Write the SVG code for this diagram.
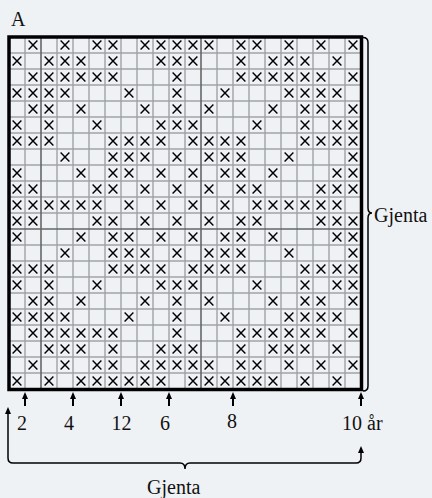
<svg xmlns="http://www.w3.org/2000/svg" width="432" height="498" viewBox="0 0 432 498">
<style>
.bg{fill:#eff2f5}
.grid{stroke:#a2a2a2;stroke-width:1.4;fill:none}
.gridd{stroke:#666;stroke-width:1.6;fill:none}
.border{stroke:#000;stroke-width:3.5;fill:none}
.xm{stroke:#000;stroke-width:1.45;fill:none}
.t{font-family:"Liberation Serif","Times New Roman",serif;font-size:20px;fill:#111}
.ln{stroke:#000;stroke-width:1.5;fill:none}
.ar{stroke:#000;stroke-width:2;fill:none}
</style>
<defs>
<path id="x" class="xm" d="M-4.4,-4.4L4.4,4.4M4.4,-4.4L-4.4,4.4"/>
<marker id="up" viewBox="0 0 6 7" refX="3" refY="4" markerWidth="6" markerHeight="7" markerUnits="userSpaceOnUse" orient="0">
<path d="M0,7L3,0L6,7Z" fill="#000"/>
</marker>
</defs>
<rect class="bg" x="0" y="0" width="432" height="498"/>
<text class="t" x="11" y="26">A</text>
<g id="grid">
<path class="grid" d="M25,37V389M57,37V389M73,37V389M89,37V389M105,37V389M121,37V389M137,37V389M153,37V389M169,37V389M185,37V389M217,37V389M233,37V389M249,37V389M265,37V389M281,37V389M297,37V389M313,37V389M329,37V389M345,37V389M9,53H361M9,69H361M9,85H361M9,101H361M9,117H361M9,133H361M9,149H361M9,165H361M9,181H361M9,197H361M9,213H361M9,245H361M9,261H361M9,277H361M9,293H361M9,309H361M9,325H361M9,341H361M9,357H361M9,373H361"/>
<path class="gridd" d="M41,37V389M201,37V389M9,229H361"/>
</g>
<g id="marks">
<g transform="translate(0,45)"><use href="#x" x="33"/><use href="#x" x="65"/><use href="#x" x="97"/><use href="#x" x="113"/><use href="#x" x="145"/><use href="#x" x="161"/><use href="#x" x="177"/><use href="#x" x="193"/><use href="#x" x="209"/><use href="#x" x="241"/><use href="#x" x="257"/><use href="#x" x="289"/><use href="#x" x="321"/><use href="#x" x="353"/></g>
<g transform="translate(0,61)"><use href="#x" x="17"/><use href="#x" x="49"/><use href="#x" x="65"/><use href="#x" x="81"/><use href="#x" x="113"/><use href="#x" x="161"/><use href="#x" x="177"/><use href="#x" x="193"/><use href="#x" x="241"/><use href="#x" x="273"/><use href="#x" x="289"/><use href="#x" x="305"/><use href="#x" x="337"/></g>
<g transform="translate(0,77)"><use href="#x" x="33"/><use href="#x" x="49"/><use href="#x" x="65"/><use href="#x" x="81"/><use href="#x" x="97"/><use href="#x" x="113"/><use href="#x" x="177"/><use href="#x" x="241"/><use href="#x" x="257"/><use href="#x" x="273"/><use href="#x" x="289"/><use href="#x" x="305"/><use href="#x" x="321"/><use href="#x" x="353"/></g>
<g transform="translate(0,93)"><use href="#x" x="17"/><use href="#x" x="33"/><use href="#x" x="49"/><use href="#x" x="65"/><use href="#x" x="129"/><use href="#x" x="177"/><use href="#x" x="225"/><use href="#x" x="289"/><use href="#x" x="305"/><use href="#x" x="321"/><use href="#x" x="337"/></g>
<g transform="translate(0,109)"><use href="#x" x="33"/><use href="#x" x="49"/><use href="#x" x="81"/><use href="#x" x="145"/><use href="#x" x="177"/><use href="#x" x="209"/><use href="#x" x="273"/><use href="#x" x="305"/><use href="#x" x="321"/><use href="#x" x="353"/></g>
<g transform="translate(0,125)"><use href="#x" x="17"/><use href="#x" x="49"/><use href="#x" x="97"/><use href="#x" x="161"/><use href="#x" x="177"/><use href="#x" x="193"/><use href="#x" x="257"/><use href="#x" x="305"/><use href="#x" x="337"/><use href="#x" x="353"/></g>
<g transform="translate(0,141)"><use href="#x" x="17"/><use href="#x" x="33"/><use href="#x" x="49"/><use href="#x" x="113"/><use href="#x" x="129"/><use href="#x" x="145"/><use href="#x" x="161"/><use href="#x" x="193"/><use href="#x" x="209"/><use href="#x" x="225"/><use href="#x" x="241"/><use href="#x" x="305"/><use href="#x" x="321"/><use href="#x" x="337"/><use href="#x" x="353"/></g>
<g transform="translate(0,157)"><use href="#x" x="65"/><use href="#x" x="113"/><use href="#x" x="129"/><use href="#x" x="145"/><use href="#x" x="177"/><use href="#x" x="209"/><use href="#x" x="225"/><use href="#x" x="241"/><use href="#x" x="289"/><use href="#x" x="353"/></g>
<g transform="translate(0,173)"><use href="#x" x="17"/><use href="#x" x="81"/><use href="#x" x="113"/><use href="#x" x="129"/><use href="#x" x="161"/><use href="#x" x="193"/><use href="#x" x="225"/><use href="#x" x="241"/><use href="#x" x="273"/><use href="#x" x="337"/><use href="#x" x="353"/></g>
<g transform="translate(0,189)"><use href="#x" x="17"/><use href="#x" x="33"/><use href="#x" x="97"/><use href="#x" x="113"/><use href="#x" x="145"/><use href="#x" x="177"/><use href="#x" x="209"/><use href="#x" x="241"/><use href="#x" x="257"/><use href="#x" x="321"/><use href="#x" x="337"/><use href="#x" x="353"/></g>
<g transform="translate(0,205)"><use href="#x" x="17"/><use href="#x" x="33"/><use href="#x" x="49"/><use href="#x" x="65"/><use href="#x" x="81"/><use href="#x" x="97"/><use href="#x" x="129"/><use href="#x" x="161"/><use href="#x" x="193"/><use href="#x" x="225"/><use href="#x" x="257"/><use href="#x" x="273"/><use href="#x" x="289"/><use href="#x" x="305"/><use href="#x" x="321"/><use href="#x" x="337"/></g>
<g transform="translate(0,221)"><use href="#x" x="17"/><use href="#x" x="33"/><use href="#x" x="97"/><use href="#x" x="113"/><use href="#x" x="145"/><use href="#x" x="177"/><use href="#x" x="209"/><use href="#x" x="241"/><use href="#x" x="257"/><use href="#x" x="321"/><use href="#x" x="337"/><use href="#x" x="353"/></g>
<g transform="translate(0,237)"><use href="#x" x="17"/><use href="#x" x="81"/><use href="#x" x="113"/><use href="#x" x="129"/><use href="#x" x="161"/><use href="#x" x="193"/><use href="#x" x="225"/><use href="#x" x="241"/><use href="#x" x="273"/><use href="#x" x="337"/><use href="#x" x="353"/></g>
<g transform="translate(0,253)"><use href="#x" x="65"/><use href="#x" x="113"/><use href="#x" x="129"/><use href="#x" x="145"/><use href="#x" x="177"/><use href="#x" x="209"/><use href="#x" x="225"/><use href="#x" x="241"/><use href="#x" x="289"/><use href="#x" x="353"/></g>
<g transform="translate(0,269)"><use href="#x" x="17"/><use href="#x" x="33"/><use href="#x" x="49"/><use href="#x" x="113"/><use href="#x" x="129"/><use href="#x" x="145"/><use href="#x" x="161"/><use href="#x" x="193"/><use href="#x" x="209"/><use href="#x" x="225"/><use href="#x" x="241"/><use href="#x" x="305"/><use href="#x" x="321"/><use href="#x" x="337"/><use href="#x" x="353"/></g>
<g transform="translate(0,285)"><use href="#x" x="17"/><use href="#x" x="49"/><use href="#x" x="97"/><use href="#x" x="161"/><use href="#x" x="177"/><use href="#x" x="193"/><use href="#x" x="257"/><use href="#x" x="305"/><use href="#x" x="337"/><use href="#x" x="353"/></g>
<g transform="translate(0,301)"><use href="#x" x="33"/><use href="#x" x="49"/><use href="#x" x="81"/><use href="#x" x="145"/><use href="#x" x="177"/><use href="#x" x="209"/><use href="#x" x="273"/><use href="#x" x="305"/><use href="#x" x="321"/><use href="#x" x="353"/></g>
<g transform="translate(0,317)"><use href="#x" x="17"/><use href="#x" x="33"/><use href="#x" x="49"/><use href="#x" x="65"/><use href="#x" x="129"/><use href="#x" x="177"/><use href="#x" x="225"/><use href="#x" x="289"/><use href="#x" x="305"/><use href="#x" x="321"/><use href="#x" x="337"/></g>
<g transform="translate(0,333)"><use href="#x" x="33"/><use href="#x" x="49"/><use href="#x" x="65"/><use href="#x" x="81"/><use href="#x" x="97"/><use href="#x" x="113"/><use href="#x" x="177"/><use href="#x" x="241"/><use href="#x" x="257"/><use href="#x" x="273"/><use href="#x" x="289"/><use href="#x" x="305"/><use href="#x" x="321"/><use href="#x" x="353"/></g>
<g transform="translate(0,349)"><use href="#x" x="17"/><use href="#x" x="49"/><use href="#x" x="65"/><use href="#x" x="81"/><use href="#x" x="113"/><use href="#x" x="161"/><use href="#x" x="177"/><use href="#x" x="193"/><use href="#x" x="241"/><use href="#x" x="273"/><use href="#x" x="289"/><use href="#x" x="305"/><use href="#x" x="337"/></g>
<g transform="translate(0,365)"><use href="#x" x="33"/><use href="#x" x="65"/><use href="#x" x="97"/><use href="#x" x="113"/><use href="#x" x="145"/><use href="#x" x="161"/><use href="#x" x="177"/><use href="#x" x="193"/><use href="#x" x="209"/><use href="#x" x="241"/><use href="#x" x="257"/><use href="#x" x="289"/><use href="#x" x="321"/><use href="#x" x="353"/></g>
<g transform="translate(0,381)"><use href="#x" x="17"/><use href="#x" x="49"/><use href="#x" x="81"/><use href="#x" x="97"/><use href="#x" x="113"/><use href="#x" x="129"/><use href="#x" x="145"/><use href="#x" x="161"/><use href="#x" x="193"/><use href="#x" x="209"/><use href="#x" x="225"/><use href="#x" x="241"/><use href="#x" x="257"/><use href="#x" x="273"/><use href="#x" x="305"/><use href="#x" x="337"/></g>
</g>
<rect class="border" x="9" y="37" width="352.5" height="352.5"/>
<g id="connectors">
<path class="ln" d="M363,37.5Q368,37.5 368,42.5V208Q368,213 372,213Q368,213 368,218V386Q368,391 363,391"/>
<path class="ar" d="M25,406V396" marker-end="url(#up)"/>
<path class="ar" d="M73,406V396" marker-end="url(#up)"/>
<path class="ar" d="M121,406V396" marker-end="url(#up)"/>
<path class="ar" d="M169,406V396" marker-end="url(#up)"/>
<path class="ar" d="M233,406V396" marker-end="url(#up)"/>
<path class="ar" d="M361,406V396" marker-end="url(#up)"/>
<path class="ln" d="M8,411V458Q8,463 13,463H180Q185,463 185,469Q185,463 190,463H356Q361,463 361,458V450"/>
<path class="ar" d="M8,413V411" marker-end="url(#up)"/>
<path class="ar" d="M361,452V450" marker-end="url(#up)"/>
</g>
<g id="labels">
<text class="t" x="22" y="430" text-anchor="middle">2</text>
<text class="t" x="69" y="430" text-anchor="middle">4</text>
<text class="t" x="121.5" y="430" text-anchor="middle">12</text>
<text class="t" x="165" y="430" text-anchor="middle">6</text>
<text class="t" x="232" y="428" text-anchor="middle">8</text>
<text class="t" x="342" y="430">10 år</text>
<text class="t" x="374" y="222">Gjenta</text>
<text class="t" x="147" y="494">Gjenta</text>
</g>
</svg>
